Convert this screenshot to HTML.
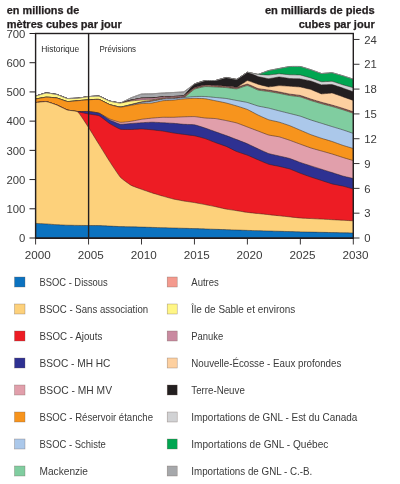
<!DOCTYPE html>
<html><head><meta charset="utf-8"><style>
html,body{margin:0;padding:0;background:#fff;width:400px;height:484px;overflow:hidden}
svg{display:block;will-change:transform}
</style></head><body>
<svg width="400" height="484" viewBox="0 0 400 484">
<rect width="400" height="484" fill="#fff"/>
<g>
<path d="M35.60,96.10 C35.81,96.04 45.77,92.93 46.19,92.90 C46.61,92.87 56.36,94.39 56.78,94.50 C57.20,94.61 66.95,98.43 67.37,98.50 C67.79,98.57 77.54,98.24 77.96,98.20 C78.38,98.16 88.13,96.64 88.55,96.60 C88.97,96.56 98.72,96.11 99.14,96.20 C99.56,96.29 109.31,100.96 109.73,101.10 C110.15,101.24 119.90,103.07 120.32,103.00 C120.74,102.93 130.49,97.98 130.91,97.80 C131.33,97.62 141.08,94.08 141.50,94.00 C141.92,93.92 151.67,93.82 152.09,93.80 C152.51,93.78 162.26,93.03 162.68,93.00 C163.10,92.97 172.85,92.52 173.27,92.50 C173.69,92.48 183.44,91.97 183.86,91.80 C184.28,91.63 194.03,84.22 194.45,84.00 C194.87,83.78 204.62,80.67 205.04,80.60 C205.46,80.53 215.21,80.56 215.63,80.50 C216.05,80.44 225.80,77.52 226.22,77.50 C226.64,77.48 236.39,79.50 236.81,79.40 C237.23,79.30 246.98,72.40 247.40,72.30 C247.82,72.20 257.57,74.43 257.99,74.40 C258.41,74.37 268.16,70.72 268.58,70.60 C269.00,70.48 278.75,68.58 279.17,68.50 C279.59,68.42 289.34,66.54 289.76,66.50 C290.18,66.46 299.93,66.44 300.35,66.50 C300.77,66.56 310.52,69.61 310.94,69.75 C311.36,69.89 321.11,73.44 321.53,73.50 C321.95,73.56 331.70,72.70 332.12,72.75 C332.54,72.80 342.29,75.62 342.71,75.75 C343.13,75.88 353.09,79.13 353.30,79.20 L353.30,238.0 L35.60,238.0 Z" fill="#a6a8ab" stroke="#2a1a18" stroke-opacity="0.75" stroke-width="0.65"/>
<path d="M35.60,96.10 C35.81,96.04 45.77,92.93 46.19,92.90 C46.61,92.87 56.36,94.39 56.78,94.50 C57.20,94.61 66.95,98.43 67.37,98.50 C67.79,98.57 77.54,98.24 77.96,98.20 C78.38,98.16 88.13,96.64 88.55,96.60 C88.97,96.56 98.72,96.11 99.14,96.20 C99.56,96.29 109.31,100.96 109.73,101.10 C110.15,101.24 119.90,103.02 120.32,103.00 C120.74,102.98 130.49,100.30 130.91,100.20 C131.33,100.10 141.08,98.24 141.50,98.20 C141.92,98.16 151.67,98.03 152.09,98.00 C152.51,97.97 162.26,96.93 162.68,96.90 C163.10,96.87 172.85,96.52 173.27,96.50 C173.69,96.48 183.44,96.05 183.86,95.80 C184.28,95.55 194.03,84.30 194.45,84.00 C194.87,83.70 204.62,80.67 205.04,80.60 C205.46,80.53 215.21,80.56 215.63,80.50 C216.05,80.44 225.80,77.52 226.22,77.50 C226.64,77.48 236.39,79.50 236.81,79.40 C237.23,79.30 246.98,72.40 247.40,72.30 C247.82,72.20 257.57,74.43 257.99,74.40 C258.41,74.37 268.16,70.72 268.58,70.60 C269.00,70.48 278.75,68.58 279.17,68.50 C279.59,68.42 289.34,66.54 289.76,66.50 C290.18,66.46 299.93,66.44 300.35,66.50 C300.77,66.56 310.52,69.61 310.94,69.75 C311.36,69.89 321.11,73.44 321.53,73.50 C321.95,73.56 331.70,72.70 332.12,72.75 C332.54,72.80 342.29,75.62 342.71,75.75 C343.13,75.88 353.09,79.13 353.30,79.20 L353.30,238.0 L35.60,238.0 Z" fill="#00a651" stroke="#2a1a18" stroke-opacity="0.75" stroke-width="0.65"/>
<path d="M35.60,96.10 C35.81,96.04 45.77,92.93 46.19,92.90 C46.61,92.87 56.36,94.39 56.78,94.50 C57.20,94.61 66.95,98.43 67.37,98.50 C67.79,98.57 77.54,98.24 77.96,98.20 C78.38,98.16 88.13,96.64 88.55,96.60 C88.97,96.56 98.72,96.11 99.14,96.20 C99.56,96.29 109.31,100.96 109.73,101.10 C110.15,101.24 119.90,103.02 120.32,103.00 C120.74,102.98 130.49,100.30 130.91,100.20 C131.33,100.10 141.08,98.24 141.50,98.20 C141.92,98.16 151.67,98.03 152.09,98.00 C152.51,97.97 162.26,96.93 162.68,96.90 C163.10,96.87 172.85,96.52 173.27,96.50 C173.69,96.48 183.44,96.05 183.86,95.80 C184.28,95.55 194.03,84.30 194.45,84.00 C194.87,83.70 204.62,80.67 205.04,80.60 C205.46,80.53 215.21,80.56 215.63,80.50 C216.05,80.44 225.80,77.52 226.22,77.50 C226.64,77.48 236.39,79.50 236.81,79.40 C237.23,79.30 246.98,72.40 247.40,72.30 C247.82,72.20 257.57,74.35 257.99,74.40 C258.41,74.45 268.16,75.01 268.58,75.00 C269.00,74.99 278.75,73.75 279.17,73.75 C279.59,73.75 289.34,74.72 289.76,74.75 C290.18,74.78 299.93,74.94 300.35,75.00 C300.77,75.06 310.52,77.86 310.94,78.00 C311.36,78.14 321.11,81.68 321.53,81.75 C321.95,81.82 331.70,81.24 332.12,81.30 C332.54,81.36 342.29,84.62 342.71,84.75 C343.13,84.88 353.09,87.64 353.30,87.70 L353.30,238.0 L35.60,238.0 Z" fill="#d1d2d4" stroke="#2a1a18" stroke-opacity="0.75" stroke-width="0.65"/>
<path d="M35.60,96.10 C35.81,96.04 45.77,92.93 46.19,92.90 C46.61,92.87 56.36,94.39 56.78,94.50 C57.20,94.61 66.95,98.43 67.37,98.50 C67.79,98.57 77.54,98.24 77.96,98.20 C78.38,98.16 88.13,96.64 88.55,96.60 C88.97,96.56 98.72,96.11 99.14,96.20 C99.56,96.29 109.31,100.96 109.73,101.10 C110.15,101.24 119.90,103.02 120.32,103.00 C120.74,102.98 130.49,100.30 130.91,100.20 C131.33,100.10 141.08,98.24 141.50,98.20 C141.92,98.16 151.67,98.03 152.09,98.00 C152.51,97.97 162.26,96.93 162.68,96.90 C163.10,96.87 172.85,96.52 173.27,96.50 C173.69,96.48 183.44,96.05 183.86,95.80 C184.28,95.55 194.03,84.30 194.45,84.00 C194.87,83.70 204.62,80.67 205.04,80.60 C205.46,80.53 215.21,80.56 215.63,80.50 C216.05,80.44 225.80,77.52 226.22,77.50 C226.64,77.48 236.39,79.50 236.81,79.40 C237.23,79.30 246.98,72.36 247.40,72.30 C247.82,72.24 257.57,76.37 257.99,76.50 C258.41,76.63 268.16,78.74 268.58,78.75 C269.00,78.76 278.75,76.91 279.17,76.90 C279.59,76.90 289.34,78.46 289.76,78.50 C290.18,78.54 299.93,78.85 300.35,78.90 C300.77,78.95 310.52,80.88 310.94,81.00 C311.36,81.12 321.11,84.83 321.53,84.90 C321.95,84.97 331.70,84.54 332.12,84.60 C332.54,84.66 342.29,87.86 342.71,88.00 C343.13,88.14 353.09,91.72 353.30,91.80 L353.30,238.0 L35.60,238.0 Z" fill="#231f20" stroke="#2a1a18" stroke-opacity="0.75" stroke-width="0.65"/>
<path d="M35.60,96.10 C35.81,96.04 45.77,92.93 46.19,92.90 C46.61,92.87 56.36,94.39 56.78,94.50 C57.20,94.61 66.95,98.43 67.37,98.50 C67.79,98.57 77.54,98.24 77.96,98.20 C78.38,98.16 88.13,96.64 88.55,96.60 C88.97,96.56 98.72,96.11 99.14,96.20 C99.56,96.29 109.31,100.96 109.73,101.10 C110.15,101.24 119.90,103.02 120.32,103.00 C120.74,102.98 130.49,100.30 130.91,100.20 C131.33,100.10 141.08,98.24 141.50,98.20 C141.92,98.16 151.67,98.03 152.09,98.00 C152.51,97.97 162.26,96.93 162.68,96.90 C163.10,96.87 172.85,96.52 173.27,96.50 C173.69,96.48 183.44,95.98 183.86,95.80 C184.28,95.62 194.03,87.91 194.45,87.70 C194.87,87.49 204.62,85.15 205.04,85.11 C205.46,85.06 215.21,85.49 215.63,85.51 C216.05,85.53 225.80,86.08 226.22,86.12 C226.64,86.16 236.39,87.44 236.81,87.33 C237.23,87.22 246.98,80.66 247.40,80.60 C247.82,80.54 257.57,84.07 257.99,84.20 C258.41,84.33 268.16,86.87 268.58,86.90 C269.00,86.93 278.75,85.61 279.17,85.60 C279.59,85.59 289.34,86.22 289.76,86.25 C290.18,86.28 299.93,86.94 300.35,87.00 C300.77,87.06 310.52,89.36 310.94,89.50 C311.36,89.64 321.11,93.83 321.53,93.90 C321.95,93.97 331.70,92.94 332.12,93.00 C332.54,93.06 342.29,96.55 342.71,96.70 C343.13,96.85 353.09,100.42 353.30,100.50 L353.30,238.0 L35.60,238.0 Z" fill="#fdd0a0" stroke="#2a1a18" stroke-opacity="0.75" stroke-width="0.65"/>
<path d="M35.60,96.10 C36.34,95.88 44.71,93.01 46.19,92.90 C47.67,92.79 55.30,94.11 56.78,94.50 C58.26,94.89 65.89,98.24 67.37,98.50 C68.85,98.76 76.48,98.33 77.96,98.20 C79.44,98.07 87.07,96.74 88.55,96.60 C90.03,96.46 97.66,95.89 99.14,96.20 C100.62,96.52 108.25,100.62 109.73,101.10 C111.21,101.58 118.84,103.06 120.32,103.00 C121.80,102.94 129.43,100.54 130.91,100.20 C132.39,99.86 140.02,98.35 141.50,98.20 C142.98,98.05 150.61,98.09 152.09,98.00 C153.57,97.91 161.20,97.01 162.68,96.90 C164.16,96.80 171.79,96.58 173.27,96.50 C174.75,96.42 182.38,96.42 183.86,95.80 C185.34,95.18 192.97,88.45 194.45,87.70 C195.93,86.95 203.56,85.26 205.04,85.11 C206.52,84.95 214.15,85.44 215.63,85.51 C217.11,85.58 224.74,85.99 226.22,86.12 C227.70,86.25 235.33,87.47 236.81,87.33 C238.29,87.19 245.92,84.05 247.40,84.13 C248.88,84.22 256.51,88.13 257.99,88.54 C259.47,88.95 267.10,89.81 268.58,90.05 C270.06,90.28 277.69,91.62 279.17,91.90 C280.65,92.18 288.28,93.81 289.76,94.06 C291.24,94.31 298.87,95.12 300.35,95.47 C301.83,95.82 309.46,98.60 310.94,99.07 C312.42,99.55 320.05,101.86 321.53,102.28 C323.01,102.70 330.64,104.67 332.12,105.09 C333.60,105.51 341.23,107.82 342.71,108.29 C344.19,108.76 352.56,111.55 353.30,111.80 L353.30,238.0 L35.60,238.0 Z" fill="#c98aa0" stroke="#2a1a18" stroke-opacity="0.75" stroke-width="0.65"/>
<path d="M35.60,96.10 C36.34,95.88 44.71,93.01 46.19,92.90 C47.67,92.79 55.30,94.11 56.78,94.50 C58.26,94.89 65.89,98.24 67.37,98.50 C68.85,98.76 76.48,98.33 77.96,98.20 C79.44,98.07 87.07,96.74 88.55,96.60 C90.03,96.46 97.66,95.89 99.14,96.20 C100.62,96.52 108.25,100.62 109.73,101.10 C111.21,101.58 118.84,103.01 120.32,103.00 C121.80,102.99 129.43,101.21 130.91,101.00 C132.39,100.79 140.02,100.08 141.50,100.00 C142.98,99.92 150.61,99.93 152.09,99.80 C153.57,99.67 161.20,98.34 162.68,98.20 C164.16,98.06 171.79,97.89 173.27,97.80 C174.75,97.71 182.38,97.55 183.86,96.90 C185.34,96.25 192.97,89.27 194.45,88.50 C195.93,87.73 203.56,86.05 205.04,85.90 C206.52,85.75 214.15,86.23 215.63,86.30 C217.11,86.37 224.74,86.77 226.22,86.90 C227.70,87.03 235.33,88.24 236.81,88.10 C238.29,87.96 245.92,84.82 247.40,84.90 C248.88,84.98 256.51,88.89 257.99,89.30 C259.47,89.71 267.10,90.57 268.58,90.80 C270.06,91.03 277.69,92.37 279.17,92.65 C280.65,92.93 288.28,94.55 289.76,94.80 C291.24,95.05 298.87,95.85 300.35,96.20 C301.83,96.55 309.46,99.32 310.94,99.80 C312.42,100.28 320.05,102.58 321.53,103.00 C323.01,103.42 330.64,105.38 332.12,105.80 C333.60,106.22 341.23,108.53 342.71,109.00 C344.19,109.47 352.56,112.25 353.30,112.50 L353.30,238.0 L35.60,238.0 Z" fill="#fff685" stroke="#2a1a18" stroke-opacity="0.75" stroke-width="0.65"/>
<path d="M35.60,99.00 C36.34,98.87 44.71,97.27 46.19,97.20 C47.67,97.13 55.30,97.70 56.78,98.00 C58.26,98.30 65.89,101.31 67.37,101.50 C68.85,101.69 76.48,100.82 77.96,100.70 C79.44,100.58 87.07,99.88 88.55,99.80 C90.03,99.72 97.66,99.16 99.14,99.50 C100.62,99.84 108.25,104.07 109.73,104.60 C111.21,105.12 118.84,107.01 120.32,107.00 C121.80,106.99 129.43,104.86 130.91,104.50 C132.39,104.14 140.02,102.09 141.50,101.80 C142.98,101.51 150.61,100.54 152.09,100.30 C153.57,100.06 161.20,98.58 162.68,98.40 C164.16,98.23 171.79,97.91 173.27,97.80 C174.75,97.69 182.38,97.55 183.86,96.90 C185.34,96.25 192.97,89.27 194.45,88.50 C195.93,87.73 203.56,86.05 205.04,85.90 C206.52,85.75 214.15,86.23 215.63,86.30 C217.11,86.37 224.74,86.77 226.22,86.90 C227.70,87.03 235.33,88.24 236.81,88.10 C238.29,87.96 245.92,84.82 247.40,84.90 C248.88,84.98 256.51,88.89 257.99,89.30 C259.47,89.71 267.10,90.57 268.58,90.80 C270.06,91.03 277.69,92.37 279.17,92.65 C280.65,92.93 288.28,94.55 289.76,94.80 C291.24,95.05 298.87,95.85 300.35,96.20 C301.83,96.55 309.46,99.32 310.94,99.80 C312.42,100.28 320.05,102.58 321.53,103.00 C323.01,103.42 330.64,105.38 332.12,105.80 C333.60,106.22 341.23,108.53 342.71,109.00 C344.19,109.47 352.56,112.25 353.30,112.50 L353.30,238.0 L35.60,238.0 Z" fill="#f49a8e" stroke="#2a1a18" stroke-opacity="0.75" stroke-width="0.65"/>
<path d="M35.60,99.00 C36.34,98.87 44.71,97.27 46.19,97.20 C47.67,97.13 55.30,97.70 56.78,98.00 C58.26,98.30 65.89,101.31 67.37,101.50 C68.85,101.69 76.48,100.82 77.96,100.70 C79.44,100.58 87.07,99.88 88.55,99.80 C90.03,99.72 97.66,99.16 99.14,99.50 C100.62,99.84 108.25,104.07 109.73,104.60 C111.21,105.12 118.84,106.99 120.32,107.00 C121.80,107.01 129.43,105.12 130.91,104.80 C132.39,104.48 140.02,102.65 141.50,102.40 C142.98,102.15 150.61,101.42 152.09,101.20 C153.57,100.98 161.20,99.38 162.68,99.20 C164.16,99.02 171.79,98.71 173.27,98.60 C174.75,98.49 182.38,98.26 183.86,97.60 C185.34,96.94 192.97,89.97 194.45,89.20 C195.93,88.43 203.56,86.75 205.04,86.60 C206.52,86.45 214.15,86.93 215.63,87.00 C217.11,87.07 224.74,87.47 226.22,87.60 C227.70,87.73 235.33,88.94 236.81,88.80 C238.29,88.66 245.92,85.52 247.40,85.60 C248.88,85.68 256.51,89.59 257.99,90.00 C259.47,90.41 267.10,91.27 268.58,91.50 C270.06,91.73 277.69,93.07 279.17,93.35 C280.65,93.63 288.28,95.25 289.76,95.50 C291.24,95.75 298.87,96.55 300.35,96.90 C301.83,97.25 309.46,100.02 310.94,100.50 C312.42,100.98 320.05,103.28 321.53,103.70 C323.01,104.12 330.64,106.08 332.12,106.50 C333.60,106.92 341.23,109.23 342.71,109.70 C344.19,110.17 352.56,112.95 353.30,113.20 L353.30,238.0 L35.60,238.0 Z" fill="#80cda0" stroke="#2a1a18" stroke-opacity="0.75" stroke-width="0.65"/>
<path d="M35.60,99.00 C36.34,98.87 44.71,97.27 46.19,97.20 C47.67,97.13 55.30,97.70 56.78,98.00 C58.26,98.30 65.89,101.31 67.37,101.50 C68.85,101.69 76.48,100.82 77.96,100.70 C79.44,100.58 87.07,99.88 88.55,99.80 C90.03,99.72 97.66,99.16 99.14,99.50 C100.62,99.84 108.25,104.07 109.73,104.60 C111.21,105.12 118.84,106.99 120.32,107.00 C121.80,107.01 129.43,105.12 130.91,104.80 C132.39,104.48 140.02,102.65 141.50,102.40 C142.98,102.15 150.61,101.42 152.09,101.20 C153.57,100.98 161.20,99.38 162.68,99.20 C164.16,99.02 171.79,98.71 173.27,98.60 C174.75,98.49 182.38,97.75 183.86,97.60 C185.34,97.45 192.97,96.58 194.45,96.50 C195.93,96.42 203.56,96.43 205.04,96.50 C206.52,96.57 214.15,97.36 215.63,97.50 C217.11,97.64 224.74,98.29 226.22,98.50 C227.70,98.71 235.33,100.22 236.81,100.50 C238.29,100.78 245.92,102.11 247.40,102.50 C248.88,102.89 256.51,105.61 257.99,106.00 C259.47,106.39 267.10,107.76 268.58,108.10 C270.06,108.44 277.69,110.47 279.17,110.85 C280.65,111.23 288.28,113.13 289.76,113.50 C291.24,113.87 298.87,115.75 300.35,116.20 C301.83,116.66 309.46,119.50 310.94,120.00 C312.42,120.50 320.05,122.84 321.53,123.30 C323.01,123.76 330.64,126.14 332.12,126.60 C333.60,127.05 341.23,129.32 342.71,129.80 C344.19,130.28 352.56,133.15 353.30,133.40 L353.30,238.0 L35.60,238.0 Z" fill="#abc8ea" stroke="#2a1a18" stroke-opacity="0.75" stroke-width="0.65"/>
<path d="M35.60,99.00 C36.34,98.87 44.71,97.27 46.19,97.20 C47.67,97.13 55.30,97.70 56.78,98.00 C58.26,98.30 65.89,101.31 67.37,101.50 C68.85,101.69 76.48,100.82 77.96,100.70 C79.44,100.58 87.07,99.88 88.55,99.80 C90.03,99.72 97.66,99.16 99.14,99.50 C100.62,99.84 108.25,104.06 109.73,104.60 C111.21,105.14 118.84,107.15 120.32,107.20 C121.80,107.25 129.43,105.56 130.91,105.30 C132.39,105.04 140.02,103.66 141.50,103.50 C142.98,103.34 150.61,103.19 152.09,103.00 C153.57,102.81 161.20,100.95 162.68,100.75 C164.16,100.55 171.79,100.23 173.27,100.10 C174.75,99.97 182.38,99.03 183.86,98.90 C185.34,98.77 192.97,98.31 194.45,98.30 C195.93,98.29 203.56,98.58 205.04,98.75 C206.52,98.92 214.15,100.50 215.63,100.80 C217.11,101.10 224.74,102.64 226.22,103.00 C227.70,103.36 235.33,105.55 236.81,106.00 C238.29,106.45 245.92,108.87 247.40,109.50 C248.88,110.13 256.51,114.29 257.99,115.00 C259.47,115.71 267.10,119.20 268.58,119.70 C270.06,120.20 277.69,121.73 279.17,122.15 C280.65,122.57 288.28,125.14 289.76,125.70 C291.24,126.26 298.87,129.57 300.35,130.20 C301.83,130.83 309.46,134.13 310.94,134.70 C312.42,135.27 320.05,137.82 321.53,138.30 C323.01,138.78 330.64,141.01 332.12,141.50 C333.60,141.99 341.23,144.81 342.71,145.30 C344.19,145.79 352.56,148.28 353.30,148.50 L353.30,238.0 L35.60,238.0 Z" fill="#f7941d" stroke="#2a1a18" stroke-opacity="0.75" stroke-width="0.65"/>
<path d="M35.60,102.60 C36.34,102.53 44.71,101.43 46.19,101.60 C47.67,101.77 55.30,104.41 56.78,105.00 C58.26,105.59 65.89,109.55 67.37,110.00 C68.85,110.45 76.48,111.39 77.96,111.50 C79.44,111.61 87.07,111.38 88.55,111.50 C90.03,111.62 97.66,112.67 99.14,113.20 C100.62,113.73 108.25,118.36 109.73,119.00 C111.21,119.64 118.84,122.14 120.32,122.30 C121.80,122.46 129.43,121.51 130.91,121.30 C132.39,121.09 140.02,119.52 141.50,119.30 C142.98,119.08 150.61,118.24 152.09,118.10 C153.57,117.96 161.20,117.36 162.68,117.30 C164.16,117.24 171.79,117.33 173.27,117.30 C174.75,117.27 182.38,116.85 183.86,116.80 C185.34,116.75 192.97,116.52 194.45,116.60 C195.93,116.68 203.56,117.86 205.04,118.00 C206.52,118.14 214.15,118.42 215.63,118.60 C217.11,118.78 224.74,120.29 226.22,120.60 C227.70,120.91 235.33,122.55 236.81,123.00 C238.29,123.45 245.92,126.44 247.40,127.00 C248.88,127.56 256.51,130.44 257.99,131.00 C259.47,131.56 267.10,134.59 268.58,135.00 C270.06,135.41 277.69,136.48 279.17,136.85 C280.65,137.22 288.28,139.79 289.76,140.30 C291.24,140.81 298.87,143.66 300.35,144.20 C301.83,144.74 309.46,147.52 310.94,148.00 C312.42,148.48 320.05,150.58 321.53,151.00 C323.01,151.42 330.64,153.55 332.12,154.00 C333.60,154.45 341.23,156.94 342.71,157.40 C344.19,157.86 352.56,160.38 353.30,160.60 L353.30,238.0 L35.60,238.0 Z" fill="#e19fab" stroke="#2a1a18" stroke-opacity="0.75" stroke-width="0.65"/>
<path d="M35.60,102.60 C36.34,102.53 44.71,101.43 46.19,101.60 C47.67,101.77 55.30,104.41 56.78,105.00 C58.26,105.59 65.89,109.55 67.37,110.00 C68.85,110.45 76.48,111.39 77.96,111.50 C79.44,111.61 87.07,111.38 88.55,111.50 C90.03,111.62 97.66,112.61 99.14,113.20 C100.62,113.80 108.25,119.23 109.73,120.00 C111.21,120.77 118.84,123.95 120.32,124.20 C121.80,124.45 129.43,123.61 130.91,123.50 C132.39,123.39 140.02,122.79 141.50,122.70 C142.98,122.61 150.61,122.20 152.09,122.20 C153.57,122.20 161.20,122.62 162.68,122.70 C164.16,122.78 171.79,123.19 173.27,123.30 C174.75,123.41 182.38,124.19 183.86,124.30 C185.34,124.41 192.97,124.54 194.45,124.80 C195.93,125.06 203.56,127.51 205.04,128.00 C206.52,128.49 214.15,131.27 215.63,131.80 C217.11,132.33 224.74,135.05 226.22,135.60 C227.70,136.15 235.33,139.03 236.81,139.60 C238.29,140.17 245.92,143.16 247.40,143.80 C248.88,144.44 256.51,148.12 257.99,148.80 C259.47,149.48 267.10,153.00 268.58,153.50 C270.06,154.00 277.69,155.65 279.17,156.00 C280.65,156.35 288.28,158.04 289.76,158.50 C291.24,158.96 298.87,161.98 300.35,162.50 C301.83,163.02 309.46,165.43 310.94,165.90 C312.42,166.37 320.05,168.78 321.53,169.25 C323.01,169.72 330.64,172.13 332.12,172.60 C333.60,173.07 341.23,175.59 342.71,176.00 C344.19,176.41 352.56,178.32 353.30,178.50 L353.30,238.0 L35.60,238.0 Z" fill="#2e3192" stroke="#2a1a18" stroke-opacity="0.75" stroke-width="0.65"/>
<path d="M35.60,102.60 C36.34,102.53 44.71,101.43 46.19,101.60 C47.67,101.77 55.30,104.41 56.78,105.00 C58.26,105.59 65.89,109.52 67.37,110.00 C68.85,110.48 76.48,111.52 77.96,111.80 C79.44,112.08 87.07,113.72 88.55,114.00 C90.03,114.28 97.66,115.13 99.14,115.80 C100.62,116.47 108.25,122.66 109.73,123.60 C111.21,124.54 118.84,128.79 120.32,129.20 C121.80,129.61 129.43,129.51 130.91,129.50 C132.39,129.49 140.02,128.98 141.50,129.00 C142.98,129.02 150.61,129.65 152.09,129.80 C153.57,129.95 161.20,130.88 162.68,131.10 C164.16,131.32 171.79,132.77 173.27,133.00 C174.75,133.23 182.38,134.20 183.86,134.40 C185.34,134.60 192.97,135.51 194.45,135.80 C195.93,136.09 203.56,138.12 205.04,138.60 C206.52,139.08 214.15,142.15 215.63,142.70 C217.11,143.25 224.74,145.78 226.22,146.40 C227.70,147.02 235.33,150.98 236.81,151.60 C238.29,152.22 245.92,154.63 247.40,155.20 C248.88,155.77 256.51,159.17 257.99,159.80 C259.47,160.43 267.10,163.74 268.58,164.20 C270.06,164.66 277.69,166.06 279.17,166.40 C280.65,166.74 288.28,168.52 289.76,169.00 C291.24,169.48 298.87,172.73 300.35,173.30 C301.83,173.87 309.46,176.60 310.94,177.10 C312.42,177.60 320.05,180.02 321.53,180.50 C323.01,180.98 330.64,183.51 332.12,183.90 C333.60,184.29 341.23,185.74 342.71,186.10 C344.19,186.46 352.56,188.80 353.30,189.00 L353.30,238.0 L35.60,238.0 Z" fill="#ed1c24" stroke="#2a1a18" stroke-opacity="0.75" stroke-width="0.65"/>
<path d="M35.60,102.60 C36.34,102.53 44.71,101.43 46.19,101.60 C47.67,101.77 55.30,104.41 56.78,105.00 C58.26,105.59 65.89,109.51 67.37,110.00 C68.85,110.49 76.48,110.78 77.96,112.00 C79.44,113.22 87.07,125.22 88.55,127.50 C90.03,129.78 97.66,142.21 99.14,144.60 C100.62,146.99 108.25,159.32 109.73,161.60 C111.21,163.88 118.84,175.55 120.32,177.20 C121.80,178.85 129.43,184.35 130.91,185.20 C132.39,186.05 140.02,188.76 141.50,189.30 C142.98,189.84 150.61,192.42 152.09,192.90 C153.57,193.38 161.20,195.67 162.68,196.10 C164.16,196.53 171.79,198.66 173.27,199.00 C174.75,199.34 182.38,200.75 183.86,201.00 C185.34,201.25 192.97,202.35 194.45,202.60 C195.93,202.85 203.56,204.31 205.04,204.60 C206.52,204.89 214.15,206.38 215.63,206.70 C217.11,207.01 224.74,208.82 226.22,209.10 C227.70,209.38 235.33,210.47 236.81,210.70 C238.29,210.93 245.92,212.20 247.40,212.40 C248.88,212.60 256.51,213.36 257.99,213.52 C259.47,213.68 267.10,214.48 268.58,214.64 C270.06,214.80 277.69,215.60 279.17,215.76 C280.65,215.92 288.28,216.72 289.76,216.88 C291.24,217.04 298.87,217.88 300.35,218.00 C301.83,218.12 309.46,218.48 310.94,218.56 C312.42,218.64 320.05,219.04 321.53,219.12 C323.01,219.20 330.64,219.60 332.12,219.68 C333.60,219.76 341.23,220.16 342.71,220.24 C344.19,220.32 352.56,220.76 353.30,220.80 L353.30,238.0 L35.60,238.0 Z" fill="#fdd17b" stroke="#2a1a18" stroke-opacity="0.75" stroke-width="0.65"/>
<path d="M35.60,223.40 C36.34,223.44 44.71,223.81 46.19,223.90 C47.67,223.99 55.30,224.61 56.78,224.70 C58.26,224.79 65.89,225.15 67.37,225.20 C68.85,225.25 76.48,225.38 77.96,225.40 C79.44,225.42 87.07,225.49 88.55,225.50 C90.03,225.51 97.66,225.56 99.14,225.60 C100.62,225.64 108.25,226.03 109.73,226.10 C111.21,226.17 118.84,226.55 120.32,226.60 C121.80,226.65 129.43,226.81 130.91,226.85 C132.39,226.88 140.02,227.06 141.50,227.10 C142.98,227.14 150.61,227.36 152.09,227.40 C153.57,227.44 161.20,227.66 162.68,227.70 C164.16,227.74 171.79,227.96 173.27,228.00 C174.75,228.04 182.38,228.26 183.86,228.30 C185.34,228.34 192.97,228.55 194.45,228.60 C195.93,228.65 203.56,228.91 205.04,228.96 C206.52,229.01 214.15,229.27 215.63,229.32 C217.11,229.37 224.74,229.63 226.22,229.68 C227.70,229.73 235.33,229.99 236.81,230.04 C238.29,230.09 245.92,230.35 247.40,230.40 C248.88,230.45 256.51,230.66 257.99,230.70 C259.47,230.74 267.10,230.96 268.58,231.00 C270.06,231.04 277.69,231.26 279.17,231.30 C280.65,231.34 288.28,231.56 289.76,231.60 C291.24,231.64 298.87,231.86 300.35,231.90 C301.83,231.94 309.46,232.09 310.94,232.12 C312.42,232.15 320.05,232.31 321.53,232.34 C323.01,232.37 330.64,232.53 332.12,232.56 C333.60,232.59 341.23,232.75 342.71,232.78 C344.19,232.81 352.56,232.98 353.30,233.00 L353.30,238.0 L35.60,238.0 Z" fill="#0b72c0" stroke="#2a1a18" stroke-opacity="0.75" stroke-width="0.65"/>
<path d="M35.60,96.10 C35.81,96.04 45.77,92.93 46.19,92.90 C46.61,92.87 56.36,94.39 56.78,94.50 C57.20,94.61 66.95,98.43 67.37,98.50 C67.79,98.57 77.54,98.24 77.96,98.20 C78.38,98.16 88.13,96.64 88.55,96.60 C88.97,96.56 98.72,96.11 99.14,96.20 C99.56,96.29 109.31,100.96 109.73,101.10 C110.15,101.24 119.90,103.07 120.32,103.00 C120.74,102.93 130.49,97.98 130.91,97.80 C131.33,97.62 141.08,94.08 141.50,94.00 C141.92,93.92 151.67,93.82 152.09,93.80 C152.51,93.78 162.26,93.03 162.68,93.00 C163.10,92.97 172.85,92.52 173.27,92.50 C173.69,92.48 183.44,91.97 183.86,91.80 C184.28,91.63 194.03,84.22 194.45,84.00 C194.87,83.78 204.62,80.67 205.04,80.60 C205.46,80.53 215.21,80.56 215.63,80.50 C216.05,80.44 225.80,77.52 226.22,77.50 C226.64,77.48 236.39,79.50 236.81,79.40 C237.23,79.30 246.98,72.40 247.40,72.30 C247.82,72.20 257.57,74.43 257.99,74.40 C258.41,74.37 268.16,70.72 268.58,70.60 C269.00,70.48 278.75,68.58 279.17,68.50 C279.59,68.42 289.34,66.54 289.76,66.50 C290.18,66.46 299.93,66.44 300.35,66.50 C300.77,66.56 310.52,69.61 310.94,69.75 C311.36,69.89 321.11,73.44 321.53,73.50 C321.95,73.56 331.70,72.70 332.12,72.75 C332.54,72.80 342.29,75.62 342.71,75.75 C343.13,75.88 353.09,79.13 353.30,79.20" fill="none" stroke="#9b9b9b" stroke-width="0.8"/>
</g>
<rect x="35.6" y="33.5" width="317.7" height="204.5" fill="none" stroke="#231f20" stroke-width="1.4"/>
<line x1="88.6" y1="33.5" x2="88.6" y2="238" stroke="#231f20" stroke-width="1.4"/>
<line x1="29.5" y1="238.00" x2="35.5" y2="238.00" stroke="#231f20" stroke-width="1"/>
<line x1="29.5" y1="208.79" x2="35.5" y2="208.79" stroke="#231f20" stroke-width="1"/>
<line x1="29.5" y1="179.57" x2="35.5" y2="179.57" stroke="#231f20" stroke-width="1"/>
<line x1="29.5" y1="150.36" x2="35.5" y2="150.36" stroke="#231f20" stroke-width="1"/>
<line x1="29.5" y1="121.14" x2="35.5" y2="121.14" stroke="#231f20" stroke-width="1"/>
<line x1="29.5" y1="91.93" x2="35.5" y2="91.93" stroke="#231f20" stroke-width="1"/>
<line x1="29.5" y1="62.71" x2="35.5" y2="62.71" stroke="#231f20" stroke-width="1"/>
<line x1="29.5" y1="33.50" x2="35.5" y2="33.50" stroke="#231f20" stroke-width="1"/>
<line x1="353" y1="238.00" x2="359.5" y2="238.00" stroke="#231f20" stroke-width="0.9"/>
<line x1="353" y1="213.18" x2="359.5" y2="213.18" stroke="#231f20" stroke-width="0.9"/>
<line x1="353" y1="188.36" x2="359.5" y2="188.36" stroke="#231f20" stroke-width="0.9"/>
<line x1="353" y1="163.55" x2="359.5" y2="163.55" stroke="#231f20" stroke-width="0.9"/>
<line x1="353" y1="138.73" x2="359.5" y2="138.73" stroke="#231f20" stroke-width="0.9"/>
<line x1="353" y1="113.91" x2="359.5" y2="113.91" stroke="#231f20" stroke-width="0.9"/>
<line x1="353" y1="89.09" x2="359.5" y2="89.09" stroke="#231f20" stroke-width="0.9"/>
<line x1="353" y1="64.28" x2="359.5" y2="64.28" stroke="#231f20" stroke-width="0.9"/>
<line x1="353" y1="39.46" x2="359.5" y2="39.46" stroke="#231f20" stroke-width="0.9"/>
<line x1="35.60" y1="238" x2="35.60" y2="244.5" stroke="#231f20" stroke-width="0.9"/>
<line x1="88.55" y1="238" x2="88.55" y2="244.5" stroke="#231f20" stroke-width="0.9"/>
<line x1="141.50" y1="238" x2="141.50" y2="244.5" stroke="#231f20" stroke-width="0.9"/>
<line x1="194.45" y1="238" x2="194.45" y2="244.5" stroke="#231f20" stroke-width="0.9"/>
<line x1="247.40" y1="238" x2="247.40" y2="244.5" stroke="#231f20" stroke-width="0.9"/>
<line x1="300.35" y1="238" x2="300.35" y2="244.5" stroke="#231f20" stroke-width="0.9"/>
<line x1="353.30" y1="238" x2="353.30" y2="244.5" stroke="#231f20" stroke-width="0.9"/>
<text x="6.8" y="14.1" font-family="Liberation Sans, sans-serif" font-weight="bold" font-size="10.2" stroke="#231f20" stroke-width="0.25" fill="#231f20" textLength="72.4" lengthAdjust="spacingAndGlyphs">en millions de</text>
<text x="6.8" y="27.5" font-family="Liberation Sans, sans-serif" font-weight="bold" font-size="10.2" stroke="#231f20" stroke-width="0.25" fill="#231f20" textLength="115" lengthAdjust="spacingAndGlyphs">mètres cubes par jour</text>
<text x="374.7" y="14.3" font-family="Liberation Sans, sans-serif" font-weight="bold" font-size="10.2" stroke="#231f20" stroke-width="0.25" fill="#231f20" text-anchor="end" textLength="109.8" lengthAdjust="spacingAndGlyphs">en milliards de pieds</text>
<text x="374.7" y="27.6" font-family="Liberation Sans, sans-serif" font-weight="bold" font-size="10.2" stroke="#231f20" stroke-width="0.25" fill="#231f20" text-anchor="end" textLength="76" lengthAdjust="spacingAndGlyphs">cubes par jour</text>
<text x="25.4" y="242.30" font-family="Liberation Sans, sans-serif" font-size="10.8" fill="#3a3a3a" text-anchor="end" textLength="6.30" lengthAdjust="spacingAndGlyphs">0</text>
<text x="25.4" y="213.09" font-family="Liberation Sans, sans-serif" font-size="10.8" fill="#3a3a3a" text-anchor="end" textLength="18.90" lengthAdjust="spacingAndGlyphs">100</text>
<text x="25.4" y="183.87" font-family="Liberation Sans, sans-serif" font-size="10.8" fill="#3a3a3a" text-anchor="end" textLength="18.90" lengthAdjust="spacingAndGlyphs">200</text>
<text x="25.4" y="154.66" font-family="Liberation Sans, sans-serif" font-size="10.8" fill="#3a3a3a" text-anchor="end" textLength="18.90" lengthAdjust="spacingAndGlyphs">300</text>
<text x="25.4" y="125.44" font-family="Liberation Sans, sans-serif" font-size="10.8" fill="#3a3a3a" text-anchor="end" textLength="18.90" lengthAdjust="spacingAndGlyphs">400</text>
<text x="25.4" y="96.23" font-family="Liberation Sans, sans-serif" font-size="10.8" fill="#3a3a3a" text-anchor="end" textLength="18.90" lengthAdjust="spacingAndGlyphs">500</text>
<text x="25.4" y="67.01" font-family="Liberation Sans, sans-serif" font-size="10.8" fill="#3a3a3a" text-anchor="end" textLength="18.90" lengthAdjust="spacingAndGlyphs">600</text>
<text x="25.4" y="37.80" font-family="Liberation Sans, sans-serif" font-size="10.8" fill="#3a3a3a" text-anchor="end" textLength="18.90" lengthAdjust="spacingAndGlyphs">700</text>
<text x="364.2" y="242.20" font-family="Liberation Sans, sans-serif" font-size="10.8" fill="#3a3a3a" textLength="6.30" lengthAdjust="spacingAndGlyphs">0</text>
<text x="364.2" y="217.38" font-family="Liberation Sans, sans-serif" font-size="10.8" fill="#3a3a3a" textLength="6.30" lengthAdjust="spacingAndGlyphs">3</text>
<text x="364.2" y="192.56" font-family="Liberation Sans, sans-serif" font-size="10.8" fill="#3a3a3a" textLength="6.30" lengthAdjust="spacingAndGlyphs">6</text>
<text x="364.2" y="167.75" font-family="Liberation Sans, sans-serif" font-size="10.8" fill="#3a3a3a" textLength="6.30" lengthAdjust="spacingAndGlyphs">9</text>
<text x="364.2" y="142.93" font-family="Liberation Sans, sans-serif" font-size="10.8" fill="#3a3a3a" textLength="12.60" lengthAdjust="spacingAndGlyphs">12</text>
<text x="364.2" y="118.11" font-family="Liberation Sans, sans-serif" font-size="10.8" fill="#3a3a3a" textLength="12.60" lengthAdjust="spacingAndGlyphs">15</text>
<text x="364.2" y="93.29" font-family="Liberation Sans, sans-serif" font-size="10.8" fill="#3a3a3a" textLength="12.60" lengthAdjust="spacingAndGlyphs">18</text>
<text x="364.2" y="68.48" font-family="Liberation Sans, sans-serif" font-size="10.8" fill="#3a3a3a" textLength="12.60" lengthAdjust="spacingAndGlyphs">21</text>
<text x="364.2" y="43.66" font-family="Liberation Sans, sans-serif" font-size="10.8" fill="#3a3a3a" textLength="12.60" lengthAdjust="spacingAndGlyphs">24</text>
<text x="37.80" y="258.6" font-family="Liberation Sans, sans-serif" font-size="11" fill="#3a3a3a" text-anchor="middle" textLength="26" lengthAdjust="spacingAndGlyphs">2000</text>
<text x="90.75" y="258.6" font-family="Liberation Sans, sans-serif" font-size="11" fill="#3a3a3a" text-anchor="middle" textLength="26" lengthAdjust="spacingAndGlyphs">2005</text>
<text x="143.70" y="258.6" font-family="Liberation Sans, sans-serif" font-size="11" fill="#3a3a3a" text-anchor="middle" textLength="26" lengthAdjust="spacingAndGlyphs">2010</text>
<text x="196.65" y="258.6" font-family="Liberation Sans, sans-serif" font-size="11" fill="#3a3a3a" text-anchor="middle" textLength="26" lengthAdjust="spacingAndGlyphs">2015</text>
<text x="249.60" y="258.6" font-family="Liberation Sans, sans-serif" font-size="11" fill="#3a3a3a" text-anchor="middle" textLength="26" lengthAdjust="spacingAndGlyphs">2020</text>
<text x="302.55" y="258.6" font-family="Liberation Sans, sans-serif" font-size="11" fill="#3a3a3a" text-anchor="middle" textLength="26" lengthAdjust="spacingAndGlyphs">2025</text>
<text x="355.50" y="258.6" font-family="Liberation Sans, sans-serif" font-size="11" fill="#3a3a3a" text-anchor="middle" textLength="26" lengthAdjust="spacingAndGlyphs">2030</text>
<text x="41.2" y="51.8" font-family="Liberation Sans, sans-serif" font-size="8.8" fill="#2a2a2a" textLength="38" lengthAdjust="spacingAndGlyphs">Historique</text>
<text x="99.5" y="51.8" font-family="Liberation Sans, sans-serif" font-size="8.8" fill="#2a2a2a" textLength="36.5" lengthAdjust="spacingAndGlyphs">Prévisions</text>
<rect x="14.5" y="277" width="10.5" height="10" fill="#0b72c0" stroke="#6b5a50" stroke-opacity="0.6" stroke-width="0.5"/>
<text x="39.5" y="286.4" font-family="Liberation Sans, sans-serif" font-size="10.6" fill="#3a3a3a" textLength="68.2" lengthAdjust="spacingAndGlyphs">BSOC - Dissous</text>
<rect x="14.5" y="304" width="10.5" height="10" fill="#fdd17b" stroke="#6b5a50" stroke-opacity="0.6" stroke-width="0.5"/>
<text x="39.5" y="313.4" font-family="Liberation Sans, sans-serif" font-size="10.6" fill="#3a3a3a" textLength="108.6" lengthAdjust="spacingAndGlyphs">BSOC - Sans association</text>
<rect x="14.5" y="331" width="10.5" height="10" fill="#ed1c24" stroke="#6b5a50" stroke-opacity="0.6" stroke-width="0.5"/>
<text x="39.5" y="340.4" font-family="Liberation Sans, sans-serif" font-size="10.6" fill="#3a3a3a" textLength="62.8" lengthAdjust="spacingAndGlyphs">BSOC - Ajouts</text>
<rect x="14.5" y="358" width="10.5" height="10" fill="#2e3192" stroke="#6b5a50" stroke-opacity="0.6" stroke-width="0.5"/>
<text x="39.5" y="367.4" font-family="Liberation Sans, sans-serif" font-size="10.6" fill="#3a3a3a" textLength="70.9" lengthAdjust="spacingAndGlyphs">BSOC - MH HC</text>
<rect x="14.5" y="385" width="10.5" height="10" fill="#e19fab" stroke="#6b5a50" stroke-opacity="0.6" stroke-width="0.5"/>
<text x="39.5" y="394.4" font-family="Liberation Sans, sans-serif" font-size="10.6" fill="#3a3a3a" textLength="72.5" lengthAdjust="spacingAndGlyphs">BSOC - MH MV</text>
<rect x="14.5" y="412" width="10.5" height="10" fill="#f7941d" stroke="#6b5a50" stroke-opacity="0.6" stroke-width="0.5"/>
<text x="39.5" y="421.4" font-family="Liberation Sans, sans-serif" font-size="10.6" fill="#3a3a3a" textLength="113.5" lengthAdjust="spacingAndGlyphs">BSOC - Réservoir étanche</text>
<rect x="14.5" y="439" width="10.5" height="10" fill="#abc8ea" stroke="#6b5a50" stroke-opacity="0.6" stroke-width="0.5"/>
<text x="39.5" y="448.4" font-family="Liberation Sans, sans-serif" font-size="10.6" fill="#3a3a3a" textLength="66.3" lengthAdjust="spacingAndGlyphs">BSOC - Schiste</text>
<rect x="14.5" y="466" width="10.5" height="10" fill="#80cda0" stroke="#6b5a50" stroke-opacity="0.6" stroke-width="0.5"/>
<text x="39.5" y="475.4" font-family="Liberation Sans, sans-serif" font-size="10.6" fill="#3a3a3a" textLength="48.5" lengthAdjust="spacingAndGlyphs">Mackenzie</text>
<rect x="167.2" y="277" width="10" height="10" fill="#f49a8e" stroke="#6b5a50" stroke-opacity="0.6" stroke-width="0.5"/>
<text x="191.3" y="286.4" font-family="Liberation Sans, sans-serif" font-size="10.6" fill="#3a3a3a" textLength="27.5" lengthAdjust="spacingAndGlyphs">Autres</text>
<rect x="167.2" y="304" width="10" height="10" fill="#fff685" stroke="#6b5a50" stroke-opacity="0.6" stroke-width="0.5"/>
<text x="191.3" y="313.4" font-family="Liberation Sans, sans-serif" font-size="10.6" fill="#3a3a3a" textLength="104" lengthAdjust="spacingAndGlyphs">Île de Sable et environs</text>
<rect x="167.2" y="331" width="10" height="10" fill="#c98aa0" stroke="#6b5a50" stroke-opacity="0.6" stroke-width="0.5"/>
<text x="191.3" y="340.4" font-family="Liberation Sans, sans-serif" font-size="10.6" fill="#3a3a3a" textLength="32" lengthAdjust="spacingAndGlyphs">Panuke</text>
<rect x="167.2" y="358" width="10" height="10" fill="#fdd0a0" stroke="#6b5a50" stroke-opacity="0.6" stroke-width="0.5"/>
<text x="191.3" y="367.4" font-family="Liberation Sans, sans-serif" font-size="10.6" fill="#3a3a3a" textLength="150" lengthAdjust="spacingAndGlyphs">Nouvelle-Écosse - Eaux profondes</text>
<rect x="167.2" y="385" width="10" height="10" fill="#231f20" stroke="#6b5a50" stroke-opacity="0.6" stroke-width="0.5"/>
<text x="191.3" y="394.4" font-family="Liberation Sans, sans-serif" font-size="10.6" fill="#3a3a3a" textLength="53.5" lengthAdjust="spacingAndGlyphs">Terre-Neuve</text>
<rect x="167.2" y="412" width="10" height="10" fill="#d1d2d4" stroke="#6b5a50" stroke-opacity="0.6" stroke-width="0.5"/>
<text x="191.3" y="421.4" font-family="Liberation Sans, sans-serif" font-size="10.6" fill="#3a3a3a" textLength="166" lengthAdjust="spacingAndGlyphs">Importations de GNL - Est du Canada</text>
<rect x="167.2" y="439" width="10" height="10" fill="#00a651" stroke="#6b5a50" stroke-opacity="0.6" stroke-width="0.5"/>
<text x="191.3" y="448.4" font-family="Liberation Sans, sans-serif" font-size="10.6" fill="#3a3a3a" textLength="137" lengthAdjust="spacingAndGlyphs">Importations de GNL - Québec</text>
<rect x="167.2" y="466" width="10" height="10" fill="#a6a8ab" stroke="#6b5a50" stroke-opacity="0.6" stroke-width="0.5"/>
<text x="191.3" y="475.4" font-family="Liberation Sans, sans-serif" font-size="10.6" fill="#3a3a3a" textLength="121" lengthAdjust="spacingAndGlyphs">Importations de GNL - C.-B.</text>
</svg>
</body></html>
